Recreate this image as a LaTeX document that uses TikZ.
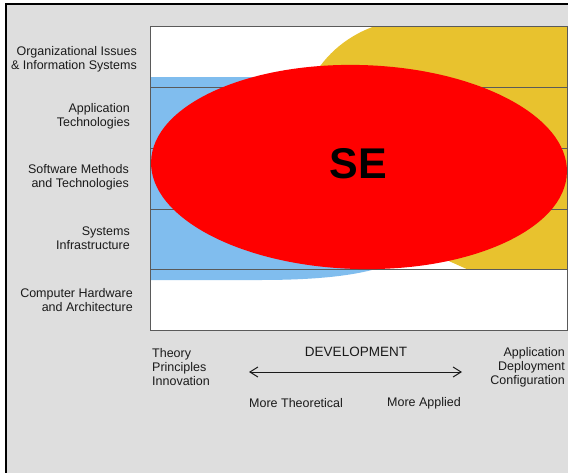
\documentclass[tikz,border=0pt]{standalone}
\usepackage{fontspec}
\setmainfont{Liberation Sans}
\usetikzlibrary{arrows.meta}
\definecolor{bg}{HTML}{DEDEDE}
\definecolor{skyb}{HTML}{80BDEE}
\definecolor{gold}{HTML}{E8C22E}
\definecolor{sered}{HTML}{FF0000}
\definecolor{rowline}{HTML}{5A5A5A}
\definecolor{txt}{HTML}{1A1A1A}
\begin{document}
\begin{tikzpicture}[x=1pt,y=-1pt,
  lbl/.style={font=\fontsize{12.5}{14}\selectfont, text=txt, inner sep=0pt},
  rowsep/.style={rowline, line width=0.8pt},
  devarrow/.style={txt, line width=1pt, {Straight Barb[length=8pt,width=10pt]}-{Straight Barb[length=8pt,width=10pt]}}]
\useasboundingbox (0,0) rectangle (568,472);
\fill[white] (0,0) rectangle (568,472);
\draw[line width=2pt, fill=bg] (6,4) rectangle (590,490);
\fill[white] (150,26) rectangle (567,330);
\begin{scope}
  \clip (150,26) rectangle (567,269);
  \fill[gold] (400,20) .. controls (330,30) and (290,90) .. (300,150)
    .. controls (310,210) and (430,250) .. (490,280) -- (600,280) -- (600,20) -- cycle;
\end{scope}
\begin{scope}
  \clip (150,26) rectangle (567,330);
  \fill[skyb] (140,77) -- (360,77) .. controls (420,120) and (420,240) .. (385,266)
    .. controls (360,275) and (320,280) .. (260,280) -- (140,280) -- cycle;
  \foreach \yy in {87,148,209,269} \draw[rowsep] (150,\yy) -- (567,\yy);
  \fill[sered, rotate around={-1.5:(359,167)}] (359,167) ellipse [x radius=208, y radius=102];
\end{scope}
\draw[rowline, line width=1pt] (150,26) rectangle (567,330);
\node[font=\bfseries\fontsize{43}{43}\selectfont, text=black, inner sep=0pt] (se) at (358,164) {SE};

\node[lbl, anchor=east, align=right] (r1) at (137,59) {Organizational Issues\\\& Information Systems};
\node[lbl, anchor=east, align=right] (r2) at (130,116) {Application\\Technologies};
\node[lbl, anchor=east, align=right] (r3) at (129,177) {Software Methods\\and Technologies};
\node[lbl, anchor=east, align=right] (r4) at (130,238) {Systems\\Infrastructure};
\node[lbl, anchor=east, align=right] (r5) at (133,300) {Computer Hardware\\and Architecture};

\node[lbl, anchor=west, align=left] (theory) at (152,367) {Theory\\Principles\\Innovation};
\node[lbl, anchor=east, align=right] (appl) at (565,367) {Application\\Deployment\\Configuration};
\node[lbl, font=\fontsize{13.5}{15}\selectfont] (dev) at (356,352) {DEVELOPMENT};
\coordinate (al) at (249,372);
\coordinate (ar) at (462,372);
\draw[devarrow] (al) -- (ar);
\node[lbl, anchor=west] (mt) at (249,403) {More Theoretical};
\node[lbl, anchor=east] (ma) at (461,403) {More Applied};
\end{tikzpicture}
\end{document}
